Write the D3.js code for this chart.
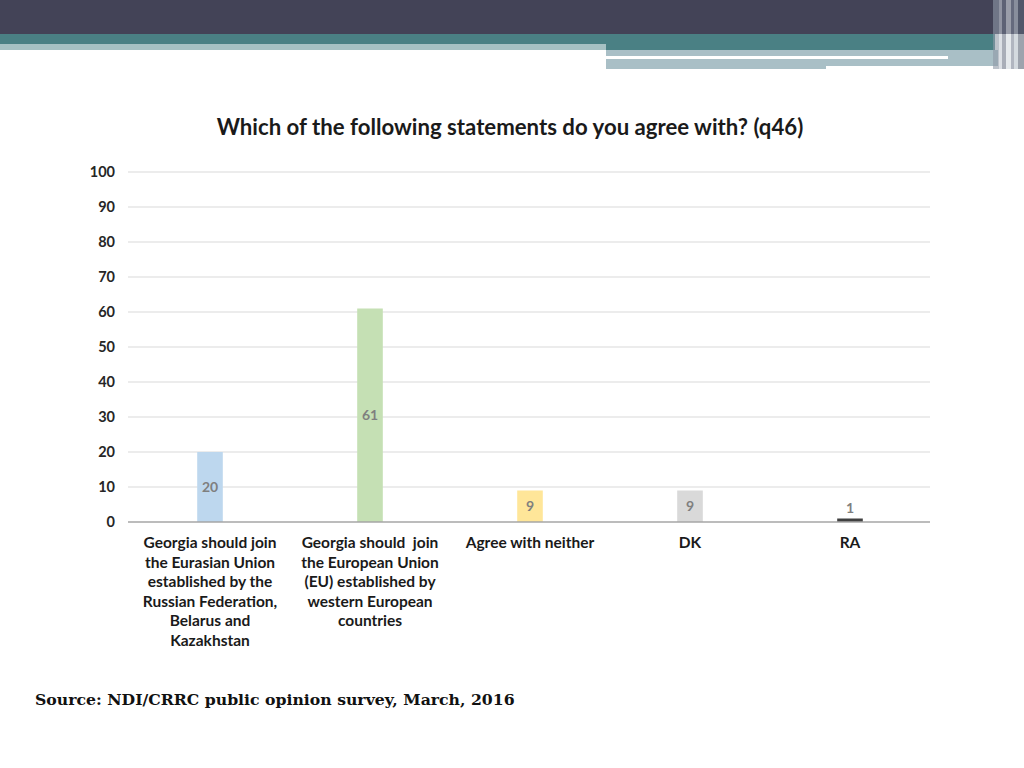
<!DOCTYPE html>
<html>
<head>
<meta charset="utf-8">
<script src="https://cdn.jsdelivr.net/npm/d3@7"></script>
<style>
  body { margin: 0; background: #fff; }
  svg { display: block; }
</style>
</head>
<body>
<svg id="chart"></svg>
<script>
// survey answers, q46
let categories = [
  'Georgia should join\nthe Eurasian Union\nestablished by the\nRussian Federation,\nBelarus and\nKazakhstan',
  'Georgia should  join\nthe European Union\n(EU) established by\nwestern European\ncountries',
  'Agree with neither',
  'DK',
  'RA'
];
let values = [20, 61, 9, 9, 1];
let barColors = ['#bdd7ee', '#c5e0b4', '#ffe699', '#d9d9d9', '#404040'];
let yTicks = [0, 10, 20, 30, 40, 50, 60, 70, 80, 90, 100];

let width = 1024;
let height = 768;

let svg = d3.select('#chart')
  .attr('width', width)
  .attr('height', height);

// slide header bands
let header = svg.append('g');
header.append('rect').attr('x', 0).attr('y', 0).attr('width', width).attr('height', 34).attr('fill', '#434357');
header.append('rect').attr('x', 0).attr('y', 34).attr('width', 995).attr('height', 16).attr('fill', '#4a8084');
header.append('rect').attr('x', 0).attr('y', 44).attr('width', 606).attr('height', 6).attr('fill', '#a6c1c3');
header.append('rect').attr('x', 606).attr('y', 50).attr('width', 392).attr('height', 16).attr('fill', '#a9bfc6');
header.append('rect').attr('x', 606).attr('y', 56).attr('width', 342).attr('height', 3).attr('fill', '#ffffff');
header.append('rect').attr('x', 606).attr('y', 59).attr('width', 220).attr('height', 10).attr('fill', '#a9bfc6');
// stripes at the right edge
let stripes = [[993, 6, '#8f9aa6'], [999, 3, '#c5ccd4'], [1002, 4, '#6f7888'], [1006, 5, '#d3dadf'], [1011, 3, '#7d8696'], [1014, 4, '#b8c2c9'], [1018, 6, '#5c6576']];
header.selectAll('rect.stripe')
  .data(stripes)
  .enter()
  .append('rect')
  .attr('class', 'stripe')
  .attr('x', d => d[0])
  .attr('y', 0)
  .attr('width', d => d[1])
  .attr('height', 69)
  .attr('fill', d => d[2])
  .attr('opacity', 0.6);

// title
svg.append('text')
  .attr('x', 510)
  .attr('y', 135)
  .attr('text-anchor', 'middle')
  .style('font-family', 'Lato, "Open Sans", sans-serif')
  .style('font-weight', 700)
  .style('font-size', '22.2px')
  .attr('fill', '#1a1a1a')
  .text('Which of the following statements do you agree with? (q46)');

let plotLeft = 128;
let plotRight = 930;
let plotTop = 172;
let plotBottom = 522;

let x = d3.scaleBand()
  .domain(categories)
  .range([plotLeft + 2, plotRight])
  .paddingInner(0.84)
  .paddingOuter(0.42);

let y = d3.scaleLinear()
  .domain([0, 100])
  .range([plotBottom, plotTop]);

// gridlines
svg.append('g')
  .selectAll('line')
  .data(yTicks.filter(d => d > 0))
  .enter()
  .append('line')
  .attr('x1', plotLeft)
  .attr('x2', plotRight)
  .attr('y1', d => y(d))
  .attr('y2', d => y(d))
  .attr('stroke', '#d9d9d9')
  .attr('stroke-width', 1);

// y axis labels
let yAxis = svg.append('g')
  .attr('transform', `translate(${plotLeft - 13},0)`)
  .call(d3.axisLeft(y).tickValues(yTicks).tickSize(0).tickPadding(0));
yAxis.select('.domain').remove();
yAxis.selectAll('text')
  .style('font-family', 'Lato, "Open Sans", sans-serif')
  .style('font-weight', 700)
  .style('font-size', '14.5px')
  .attr('fill', '#262626');

// bars
svg.append('g')
  .selectAll('rect')
  .data(values)
  .enter()
  .append('rect')
  .attr('x', (d, i) => x(categories[i]))
  .attr('y', d => y(d))
  .attr('width', x.bandwidth())
  .attr('height', d => y(0) - y(d))
  .attr('fill', (d, i) => barColors[i]);

// baseline
svg.append('line')
  .attr('x1', plotLeft)
  .attr('x2', plotRight)
  .attr('y1', y(0))
  .attr('y2', y(0))
  .attr('stroke', '#a6a6a6')
  .attr('stroke-width', 1.5);

// value labels
svg.append('g')
  .selectAll('text')
  .data(values)
  .enter()
  .append('text')
  .attr('x', (d, i) => x(categories[i]) + x.bandwidth() / 2)
  .attr('y', d => Math.min((y(d) + y(0)) / 2, y(0) - 14))
  .attr('dy', '0.35em')
  .attr('text-anchor', 'middle')
  .style('font-family', 'Lato, "Open Sans", sans-serif')
  .style('font-weight', 700)
  .style('font-size', '14px')
  .attr('fill', '#7f7f7f')
  .text(d => d);

// category labels
let catLabels = svg.append('g')
  .selectAll('text')
  .data(categories)
  .enter()
  .append('text')
  .attr('x', d => x(d) + x.bandwidth() / 2)
  .attr('y', 548)
  .attr('text-anchor', 'middle')
  .style('font-family', 'Lato, "Open Sans", sans-serif')
  .style('font-weight', 700)
  .style('font-size', '15.5px')
  .attr('fill', '#1a1a1a');

catLabels.selectAll('tspan')
  .data(d => d.split('\n'))
  .enter()
  .append('tspan')
  .attr('x', function() { return d3.select(this.parentNode).attr('x'); })
  .attr('dy', (d, i) => i === 0 ? 0 : 19.6)
  .style('white-space', 'pre')
  .text(d => d);

// source note
svg.append('text')
  .attr('x', 35)
  .attr('y', 705)
  .style('font-family', '"DejaVu Serif", serif')
  .style('font-weight', 700)
  .style('font-size', '15.7px')
  .attr('fill', '#111')
  .text('Source: NDI/CRRC public opinion survey, March, 2016');
</script>
</body>
</html>
